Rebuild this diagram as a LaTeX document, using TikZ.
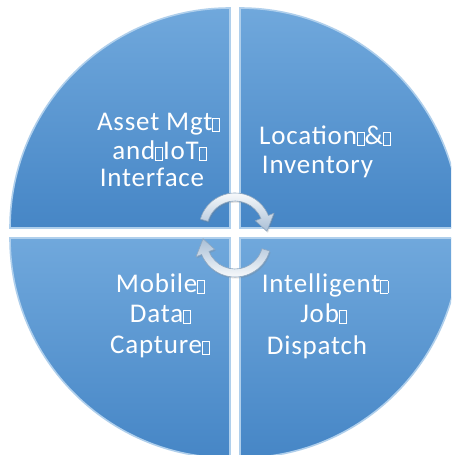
\documentclass[tikz,border=0pt]{standalone}
\usepackage{fontspec}
\usetikzlibrary{shadows}
\newfontfamily\lblfont{Carlito}[LetterSpace=3]
\definecolor{qtop}{HTML}{70A8DC}
\definecolor{qbot}{HTML}{4686C6}
\definecolor{qedge}{HTML}{AFCFEC}
\definecolor{arwlo}{HTML}{A9BFD6}
\definecolor{arwedge}{HTML}{8EA7C0}
\newcommand\tofu{{\setlength\fboxsep{0pt}\setlength\fboxrule{0.6pt}\fbox{\rule{0pt}{12pt}\hspace{6.5pt}}}}
\tikzset{
  quad/.style={top color=qtop, bottom color=qbot, draw=qedge, line width=1.6pt},
  lbl/.style={text=white, inner sep=0pt, anchor=base, font=\lblfont\fontsize{27}{32}\selectfont},
  cyc/.style={draw=arwedge, line width=0.6pt, drop shadow={opacity=0.25, shadow xshift=1pt, shadow yshift=-1.5pt}}
}
\begin{document}
\begin{tikzpicture}[x=1pt,y=1pt]
\useasboundingbox (0,0) rectangle (451,455);
\clip (0,0) rectangle (451,455);
\fill[white] (0,0) rectangle (451,455);
% quadrants
\path[quad] (230,227) -- (10,227) arc[start angle=180,end angle=90,radius=220pt] -- cycle;
\path[quad] (240,227) -- (240,447) arc[start angle=90,end angle=0,radius=220pt] -- cycle;
\path[quad] (230,217) -- (230,-3) arc[start angle=270,end angle=180,radius=220pt] -- cycle;
\path[quad] (240,217) -- (460,217) arc[start angle=0,end angle=-90,radius=220pt] -- cycle;
% cycle arrows
\begin{scope}[shift={(235,226)}]
\path[cyc, top color=white, bottom color=arwlo]
  (164:36) arc[start angle=164,end angle=22,radius=36pt] -- (22:42) -- (-4:32)
  -- (22:22) -- (22:28) arc[start angle=22,end angle=164,radius=28pt] -- cycle;
\end{scope}
\begin{scope}[shift={(235,214)}, rotate=180]
\path[cyc, bottom color=white, top color=arwlo]
  (164:36) arc[start angle=164,end angle=22,radius=36pt] -- (22:42) -- (-4:32)
  -- (22:22) -- (22:28) arc[start angle=22,end angle=164,radius=28pt] -- cycle;
\end{scope}
% labels
\node[lbl] (tl1) at (158.5,324) {Asset Mgt\tofu};
\node[lbl] (tl2) at (159.5,295) {and\tofu IoT\tofu};
\node[lbl] (tl3) at (152,268) {Interface};
\node[lbl] (tr1) at (325,310) {Location\tofu\&\tofu};
\node[lbl] (tr2) at (317.5,281) {Inventory};
\node[lbl] (bl1) at (160.5,162) {Mobile\tofu};
\node[lbl] (bl2) at (160.5,132) {Data\tofu};
\node[lbl] (bl3) at (160,101) {Capture\tofu};
\node[lbl] (br1) at (325,162) {Intelligent\tofu};
\node[lbl] (br2) at (323.5,132) {Job\tofu};
\node[lbl] (br3) at (317,100) {Dispatch};
\end{tikzpicture}
\end{document}
